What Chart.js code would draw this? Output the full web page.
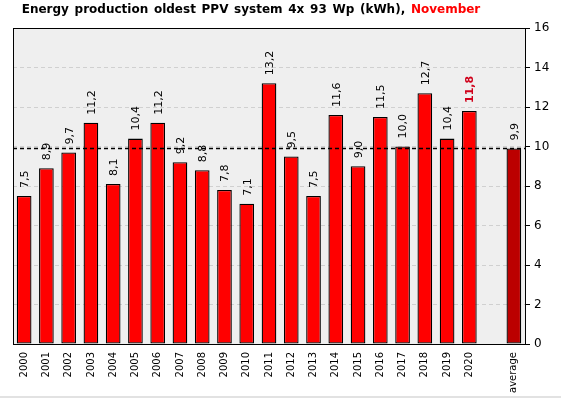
<!DOCTYPE html>
<html>
<head>
<meta charset="utf-8">
<script src="https://cdn.jsdelivr.net/npm/chart.js"></script>
<style>
  html, body { margin: 0; padding: 0; background: #fff; }
  #wrap { width: 561px; height: 398px; position: relative; }
</style>
</head>
<body>
<div id="wrap"><canvas id="pvChart" width="561" height="398"></canvas></div>
<script>
// data
const years = ['2000', '2001', '2002', '2003', '2004', '2005', '2006', '2007', '2008', '2009', '2010',
               '2011', '2012', '2013', '2014', '2015', '2016', '2017', '2018', '2019', '2020', '', 'average'];
const production = [7.5, 8.9, 9.7, 11.2, 8.1, 10.4, 11.2, 9.2, 8.8, 7.8, 7.1,
                    13.2, 9.5, 7.5, 11.6, 9.0, 11.5, 10.0, 12.7, 10.4, 11.8, null, 9.9];
const averageValue = 9.9;
const currentYear = '2020';
const titleText = 'Energy production oldest PPV system 4x 93 Wp (kWh), ';
const monthText = 'November';
const yTicks = [0, 2, 4, 6, 8, 10, 12, 14, 16];

const FONT = '"DejaVu Sans", Verdana, sans-serif';

function fmt(v) {
    return v.toFixed(1).replace('.', ',');
}

// plot background + frame
const frame = {
    id: 'frame',
    beforeDraw(chart) {
        const { ctx, chartArea: a } = chart;
        ctx.save();
        ctx.fillStyle = '#efefef';
        ctx.fillRect(a.left, a.top, a.right - a.left, a.bottom - a.top);
        ctx.restore();
    },
    afterDraw(chart) {
        const { ctx, chartArea: a } = chart;
        ctx.save();
        ctx.strokeStyle = '#000';
        ctx.lineWidth = 1;
        ctx.strokeRect(Math.round(a.left) + 0.5, Math.round(a.top) + 0.5,
                       Math.round(a.right - a.left), Math.round(a.bottom - a.top));
        // light line along the bottom of the picture
        ctx.strokeStyle = '#d8d8d8';
        ctx.lineWidth = 1.5;
        ctx.beginPath();
        ctx.moveTo(0, chart.height - 1);
        ctx.lineTo(chart.width, chart.height - 1);
        ctx.stroke();
        ctx.restore();
    }
};

// title in two colours
const twoColourTitle = {
    id: 'twoColourTitle',
    afterDraw(chart) {
        const ctx = chart.ctx;
        ctx.save();
        ctx.font = 'bold 12px ' + FONT;
        ctx.wordSpacing = '1.5px';
        ctx.textBaseline = 'middle';
        const w1 = ctx.measureText(titleText).width;
        const w2 = ctx.measureText(monthText).width;
        let x = 251 - (w1 + w2) / 2;
        ctx.fillStyle = '#000';
        ctx.fillText(titleText, x, 10);
        ctx.fillStyle = '#ff0000';
        ctx.fillText(monthText, x + w1, 10);
        ctx.restore();
    }
};

// dashed average line
const avgLine = {
    id: 'avgLine',
    afterDatasetsDraw(chart) {
        const { ctx, chartArea: a, scales } = chart;
        const y = Math.round(scales.y.getPixelForValue(averageValue)) + 0.5;
        ctx.save();
        ctx.strokeStyle = '#000';
        ctx.lineWidth = 1.3;
        ctx.setLineDash([4, 3]);
        ctx.beginPath();
        ctx.moveTo(a.left, y);
        ctx.lineTo(a.right, y);
        ctx.stroke();
        ctx.restore();
    }
};

// vertical value labels above bars
const valueLabels = {
    id: 'valueLabels',
    afterDatasetsDraw(chart) {
        const ctx = chart.ctx;
        const meta = chart.getDatasetMeta(0);
        meta.data.forEach((bar, i) => {
            const v = production[i];
            if (v == null) return;
            const isCurrent = years[i] === currentYear;
            ctx.save();
            ctx.translate(bar.x + 1, bar.y - 8);
            ctx.rotate(-Math.PI / 2);
            ctx.font = (isCurrent ? 'bold ' : '') + '11px ' + FONT;
            ctx.fillStyle = isCurrent ? '#d0001a' : '#000';
            ctx.textAlign = 'left';
            ctx.textBaseline = 'middle';
            ctx.fillText(fmt(v), 0, 0);
            ctx.restore();
        });
    }
};

const ctx = document.getElementById('pvChart').getContext('2d');
new Chart(ctx, {
    type: 'bar',
    data: {
        labels: years,
        datasets: [{
            data: production,
            backgroundColor: years.map(y => y === 'average' ? '#bb0000' : '#ff0000'),
            borderColor: '#000',
            borderWidth: 1.3,
            borderSkipped: false,
            categoryPercentage: 1,
            barPercentage: 0.66
        }]
    },
    options: {
        responsive: false,
        animation: false,
        layout: { padding: { top: 28, left: 13, right: 0, bottom: 0 } },
        plugins: {
            legend: { display: false },
            title: { display: false },
            tooltip: { enabled: false }
        },
        scales: {
            x: {
                grid: { display: false },
                border: { display: false },
                ticks: {
                    autoSkip: false,
                    minRotation: 90,
                    maxRotation: 90,
                    padding: 0,
                    color: '#000',
                    font: { family: FONT, size: 10 }
                },
                afterFit(scale) { scale.height = 54; }
            },
            y: {
                position: 'right',
                min: 0,
                max: 16,
                afterBuildTicks(scale) { scale.ticks = yTicks.map(v => ({ value: v })); },
                grid: {
                    color: '#d0d0d0',
                    tickColor: '#000',
                    tickLength: 5,
                    tickBorderDash: [],
                    drawOnChartArea: true
                },
                border: { display: true, color: '#000', dash: [4, 3] },
                ticks: {
                    color: '#000',
                    padding: 4,
                    font: { family: FONT, size: 12 }
                },
                afterFit(scale) { scale.width = 36; }
            }
        }
    },
    plugins: [frame, avgLine, valueLabels, twoColourTitle]
});
</script>
</body>
</html>
